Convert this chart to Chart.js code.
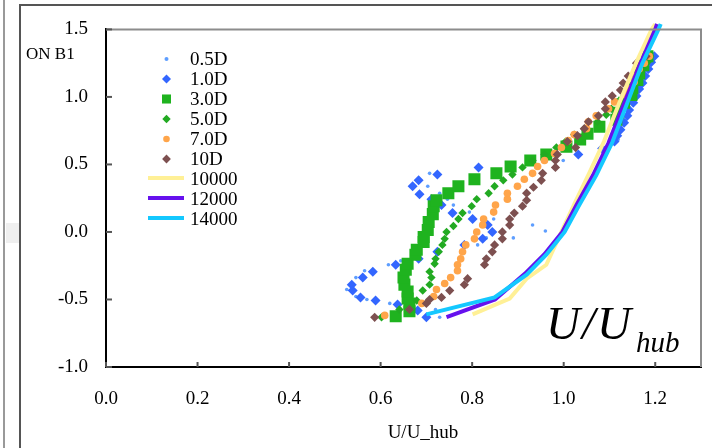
<!DOCTYPE html>
<html><head><meta charset="utf-8">
<script src="https://cdn.jsdelivr.net/npm/chart.js@4/dist/chart.umd.min.js"></script>
<style>html,body{margin:0;padding:0;background:#fff;overflow:hidden}canvas{display:block}</style>
</head><body>
<canvas id="c" width="712" height="448"></canvas>
<script>
// ---------- data ----------
const seriesNames = ['0.5D','1.0D','3.0D','5.0D','7.0D','10D','10000','12000','14000'];
const xTickValues = [0.0,0.2,0.4,0.6,0.8,1.0,1.2];
const yTickValues = [-1.0,-0.5,0.0,0.5,1.0,1.5];
const xAxisTitle = 'U/U_hub';
const yCornerLabel = 'ON B1';

const d05_x = [0.729,0.720,0.620,0.570,0.546,0.526,0.537,0.546,0.565,0.617,0.644,0.685,0.722,0.779,0.812,0.831,0.890,0.960,0.932,0.847,0.794,0.759,0.729,0.746,0.729,0.703,0.707,0.999,1.119,1.126,1.135,1.143,1.154,1.165,1.176,1.187];
const d05_y = [-0.632,-0.574,-0.529,-0.500,-0.478,-0.426,-0.390,-0.338,-0.287,-0.243,-0.213,-0.191,-0.140,-0.096,-0.096,-0.044,-0.044,0.007,0.051,0.096,0.147,0.199,0.243,0.243,0.287,0.338,0.434,0.529,0.684,0.772,0.824,0.919,1.015,1.103,1.199,1.287];

const d10_x = [0.700,0.681,0.637,0.589,0.556,0.539,0.537,0.561,0.583,0.633,0.683,0.724,0.783,0.823,0.844,0.834,0.801,0.757,0.733,0.711,0.685,0.670,0.683,0.724,0.814,1.032,1.084,1.111,1.117,1.124,1.132,1.139,1.143,1.152,1.159,1.165,1.172,1.178,1.185,1.191,1.198];
const d10_y = [-0.632,-0.581,-0.537,-0.507,-0.485,-0.434,-0.390,-0.338,-0.294,-0.243,-0.199,-0.147,-0.096,-0.051,0.000,0.051,0.096,0.140,0.199,0.243,0.279,0.338,0.382,0.426,0.478,0.574,0.618,0.669,0.713,0.757,0.809,0.860,0.904,0.956,1.007,1.059,1.103,1.154,1.206,1.257,1.301];

const d30_x = [0.633,0.663,0.663,0.659,0.659,0.652,0.650,0.655,0.659,0.676,0.679,0.694,0.694,0.703,0.705,0.714,0.716,0.722,0.748,0.770,0.805,0.853,0.884,0.927,0.962,1.006,1.036,1.052,1.078,1.115,1.119,1.132,1.148,1.150,1.161,1.165,1.174,1.183];
const d30_y = [-0.625,-0.588,-0.529,-0.493,-0.441,-0.390,-0.338,-0.279,-0.235,-0.169,-0.132,-0.074,-0.037,0.015,0.074,0.132,0.191,0.235,0.287,0.338,0.390,0.434,0.485,0.529,0.574,0.632,0.684,0.728,0.779,0.831,0.882,0.956,1.015,1.066,1.125,1.176,1.235,1.301];

const d50_x = [0.602,0.641,0.679,0.692,0.707,0.711,0.707,0.718,0.720,0.727,0.735,0.740,0.744,0.759,0.770,0.779,0.799,0.810,0.836,0.849,0.868,0.888,0.910,0.932,0.958,0.984,1.004,1.023,1.045,1.074,1.093,1.104,1.117,1.132,1.143,1.156,1.161,1.174,1.183,1.189];
const d50_y = [-0.632,-0.574,-0.507,-0.434,-0.390,-0.338,-0.294,-0.235,-0.199,-0.147,-0.096,-0.051,0.000,0.044,0.096,0.140,0.191,0.243,0.287,0.338,0.382,0.426,0.478,0.529,0.574,0.625,0.669,0.721,0.765,0.816,0.868,0.912,0.963,1.007,1.059,1.110,1.154,1.206,1.257,1.301];

const d70_x = [0.609,0.690,0.716,0.722,0.740,0.753,0.768,0.768,0.775,0.779,0.786,0.805,0.810,0.823,0.825,0.847,0.851,0.877,0.877,0.899,0.914,0.932,0.943,0.958,0.980,0.995,1.010,1.023,1.050,1.054,1.071,1.098,1.111,1.135,1.143,1.154,1.156,1.165,1.176,1.187];
const d70_y = [-0.618,-0.529,-0.478,-0.426,-0.382,-0.338,-0.287,-0.243,-0.199,-0.147,-0.096,-0.051,0.000,0.051,0.096,0.147,0.199,0.243,0.287,0.338,0.390,0.434,0.485,0.529,0.581,0.625,0.676,0.721,0.765,0.816,0.860,0.912,0.963,1.015,1.059,1.110,1.154,1.206,1.250,1.301];

const d100_x = [0.587,0.663,0.700,0.707,0.733,0.751,0.783,0.790,0.827,0.831,0.844,0.849,0.866,0.866,0.882,0.882,0.892,0.910,0.919,0.919,0.934,0.951,0.954,0.982,0.982,0.986,1.026,1.008,1.030,1.045,1.054,1.076,1.091,1.091,1.106,1.124,1.130,1.141,1.159,1.159,1.180];
const d100_y = [-0.632,-0.574,-0.529,-0.500,-0.485,-0.434,-0.390,-0.346,-0.243,-0.199,-0.147,-0.096,-0.051,0.000,0.051,0.096,0.140,0.191,0.235,0.287,0.331,0.382,0.434,0.478,0.529,0.574,0.625,0.669,0.713,0.765,0.816,0.860,0.912,0.963,1.007,1.051,1.103,1.154,1.199,1.250,1.301];

const l10000_x = [0.801,0.882,0.919,0.962,0.995,1.025,1.055,1.088,1.122,1.158,1.192,1.200];
const l10000_y = [-0.610,-0.493,-0.346,-0.243,0.000,0.220,0.430,0.670,0.960,1.250,1.500,1.540];
const l12000_x = [0.744,0.850,0.915,0.958,0.997,1.028,1.064,1.098,1.133,1.168,1.200,1.204];
const l12000_y = [-0.630,-0.500,-0.310,-0.165,0.000,0.200,0.420,0.660,0.960,1.250,1.500,1.540];
const l14000_x = [0.700,0.849,0.919,0.962,1.002,1.034,1.071,1.106,1.139,1.172,1.207,1.212];
const l14000_y = [-0.610,-0.485,-0.316,-0.169,0.000,0.199,0.419,0.662,0.956,1.250,1.500,1.540];

// ---------- helpers / styles ----------
const SERIF = '"Liberation Serif", "Times New Roman", serif';
function pts(xs, ys){ return xs.map((x,i)=>({x:x, y:ys[i]})); }

const markerStyles = [
  {color:'#5e9eff', style:'circle',  r:1.8, lr:2},
  {color:'#3366ff', style:'rectRot', r:5,   lr:4.5},
  {color:'#1fb31f', style:'rect',    r:8.5, lr:6.4},
  {color:'#22aa22', style:'rectRot', r:4.2, lr:4.2},
  {color:'#ffa54a', style:'circle',  r:3.8, lr:3.3},
  {color:'#7d5050', style:'rectRot', r:4.6, lr:4.4}
];
const lineStyles = [
  {color:'#fff096', w:4},
  {color:'#6611ee', w:4},
  {color:'#14c8ff', w:4}
];

const scatterData = [[d05_x,d05_y],[d10_x,d10_y],[d30_x,d30_y],[d50_x,d50_y],[d70_x,d70_y],[d100_x,d100_y]];
const lineData = [[l10000_x,l10000_y],[l12000_x,l12000_y],[l14000_x,l14000_y]];

const datasets = [];
scatterData.forEach((d,i)=>{
  const s = markerStyles[i];
  datasets.push({
    label: seriesNames[i], data: pts(d[0], d[1]), showLine:false,
    pointStyle: s.style, pointRadius: s.r, pointBackgroundColor: s.color,
    pointBorderWidth: 0, pointBorderColor: s.color, backgroundColor: s.color, borderColor: s.color,
    order: 20 - i, legendR: s.lr
  });
});
lineData.forEach((d,i)=>{
  const s = lineStyles[i];
  datasets.push({
    label: seriesNames[6+i], data: pts(d[0], d[1]), showLine:true, pointRadius:0,
    borderColor: s.color, backgroundColor: s.color, borderWidth: s.w, tension:0, fill:false,
    clip: false, order: 10 - i, isLine: true
  });
});

function drawMarker(ctx, style, r, x, y){
  if (Chart.helpers && Chart.helpers.drawPoint) {
    Chart.helpers.drawPoint(ctx, {pointStyle: style, radius: r, rotation: 0, borderWidth: 0}, x, y);
    return;
  }
  ctx.beginPath();
  if (style === 'circle') ctx.arc(x, y, r, 0, Math.PI*2);
  else if (style === 'rect') { const s = r*Math.SQRT1_2; ctx.rect(x-s, y-s, 2*s, 2*s); }
  else { ctx.moveTo(x-r,y); ctx.lineTo(x,y-r); ctx.lineTo(x+r,y); ctx.lineTo(x,y+r); ctx.closePath(); }
  ctx.fill();
}

const decor = {
  id: 'decor',
  beforeDraw(chart){
    const ctx = chart.ctx;
    ctx.save();
    ctx.fillStyle = '#fff'; ctx.fillRect(0,0,chart.width,chart.height);
    ctx.fillStyle = '#efefef'; ctx.fillRect(6,223,13,20);
    ctx.strokeStyle = '#777'; ctx.lineWidth = 1.5;
    ctx.beginPath(); ctx.moveTo(4,0); ctx.lineTo(4,448); ctx.stroke();
    ctx.strokeStyle = '#555'; ctx.lineWidth = 2;
    ctx.beginPath(); ctx.moveTo(20,448); ctx.lineTo(20,5); ctx.lineTo(712,5); ctx.stroke();
    ctx.restore();
  },
  afterDraw(chart){
    const ctx = chart.ctx, ca = chart.chartArea, xs = chart.scales.x, ys = chart.scales.y;
    ctx.save();
    // top / right frame
    ctx.strokeStyle = '#8c8c8c'; ctx.lineWidth = 2;
    ctx.beginPath(); ctx.moveTo(ca.left, ca.top); ctx.lineTo(ca.right, ca.top); ctx.lineTo(ca.right, ca.bottom); ctx.stroke();
    // inward ticks
    ctx.strokeStyle = '#555'; ctx.lineWidth = 2;
    yTickValues.forEach(v=>{ const y = ys.getPixelForValue(v); ctx.beginPath(); ctx.moveTo(ca.left, y); ctx.lineTo(ca.left+6, y); ctx.stroke(); });
    xTickValues.forEach(v=>{ const x = xs.getPixelForValue(v); ctx.beginPath(); ctx.moveTo(x, ca.bottom); ctx.lineTo(x, ca.bottom-5); ctx.stroke(); });
    // corner label and axis title
    ctx.fillStyle = '#000'; ctx.textBaseline = 'alphabetic'; ctx.textAlign = 'left';
    ctx.font = '17px ' + SERIF; ctx.fillText(yCornerLabel, 26, 59);
    ctx.textAlign = 'center'; ctx.font = '19px ' + SERIF; ctx.fillText(xAxisTitle, 423, 438);
    // legend
    ctx.textAlign = 'left'; ctx.font = '19px ' + SERIF;
    chart.data.datasets.forEach((ds, i)=>{
      const by = 65 + i*20;
      if (ds.isLine) {
        ctx.strokeStyle = ds.borderColor; ctx.lineWidth = ds.borderWidth;
        ctx.beginPath(); ctx.moveTo(148, by-7); ctx.lineTo(184, by-7); ctx.stroke();
      } else {
        ctx.fillStyle = ds.pointBackgroundColor; ctx.strokeStyle = ds.pointBackgroundColor;
        drawMarker(ctx, ds.pointStyle, ds.legendR, 166.5, by-6);
      }
      ctx.fillStyle = '#000'; ctx.fillText(ds.label, 190, by);
    });
    // big math label
    ctx.font = 'italic 47px ' + SERIF;
    ctx.fillText('U', 546, 339);
    ctx.fillText('/', 582, 339);
    ctx.fillText('U', 597, 339);
    ctx.font = 'italic 29px ' + SERIF;
    ctx.fillText('hub', 636, 352);
    ctx.restore();
  }
};

new Chart(document.getElementById('c'), {
  type: 'scatter',
  data: { datasets: datasets },
  options: {
    responsive: false, animation: false, devicePixelRatio: 1, events: [],
    layout: { padding: { left: 0, right: 11, top: 26, bottom: 0 } },
    plugins: { legend: { display: false }, tooltip: { enabled: false }, title: { display: false } },
    scales: {
      x: {
        type: 'linear', position: 'bottom', min: 0, max: 1.3,
        afterBuildTicks: s => { s.ticks = xTickValues.map(v => ({value: v})); },
        afterFit: s => { s.height = 81; },
        grid: { display: false, drawTicks: false },
        border: { display: true, color: '#000', width: 2 },
        ticks: { padding: 21, color: '#000', font: { family: SERIF, size: 19 }, maxRotation: 0, autoSkip: false,
                 callback: v => Number(v).toFixed(1) }
      },
      y: {
        type: 'linear', position: 'left', min: -1, max: 1.5,
        afterBuildTicks: s => { s.ticks = yTickValues.map(v => ({value: v})); },
        afterFit: s => { s.width = 106; },
        grid: { display: false, drawTicks: false },
        border: { display: true, color: '#000', width: 2 },
        ticks: { padding: 18, color: '#000', font: { family: SERIF, size: 19 }, autoSkip: false,
                 callback: v => Number(v).toFixed(1) }
      }
    }
  },
  plugins: [decor]
});
</script>
</body></html>
